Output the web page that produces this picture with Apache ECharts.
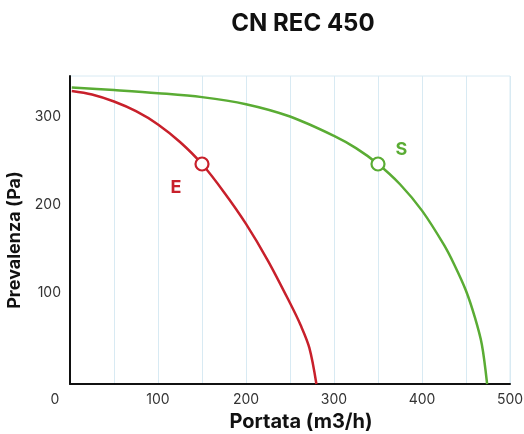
<!DOCTYPE html>
<html>
<head>
<meta charset="utf-8">
<script src="https://cdn.jsdelivr.net/npm/echarts@6/dist/echarts.min.js"></script>
<style>
html,body{margin:0;padding:0;background:#fff;}
#c{width:524px;height:434px;}
</style>
</head>
<body>
<div id="c"></div>
<script>
var titleText = 'CN REC 450';
var xName = 'Portata (m3/h)';
var yName = 'Prevalenza (Pa)';
var xTicks = [0, 100, 200, 300, 400, 500];
var yTicks = [100, 200, 300];
var seriesE = [[2,333],[25,329],[50,321],[75,310],[100,295],[125,275],[150,250],[175,218],[200,182],[225,140],[250,92],[262,67],[272,41],[280,0]];
var seriesS = [[2,337],[50,334],[100,330.5],[150,326],[200,318],[250,304],[300,282],[325,268],[350,250],[375,227],[400,197],[425,158],[437,135],[450,106],[460,76],[468,45],[474,0]];
var pointE = [150, 250];
var pointS = [350, 250];
var labelE = 'E';
var labelS = 'S';

var RED = '#c8202b';
var GREEN = '#5aac34';
var FONT = 'Inter, "IBM Plex Sans", Roboto, sans-serif';

var chart = echarts.init(document.getElementById('c'), null, {renderer: 'canvas'});
chart.setOption({
  animation: false,
  backgroundColor: '#fff',
  title: {
    text: titleText,
    left: 298, top: 7,
    textAlign: 'center',
    textStyle: {fontFamily: FONT, fontWeight: 'bold', fontSize: 24, color: '#111'}
  },
  grid: {
    left: 70, right: 14, top: 76, bottom: 50,
    outerBoundsMode: 'none', containLabel: false,
    show: true, borderColor: '#d8eaf3', borderWidth: 1
  },
  xAxis: {
    type: 'value', min: xTicks[0], max: xTicks[xTicks.length-1], interval: 100,
    name: xName, nameLocation: 'middle', nameGap: 28,
    nameTextStyle: {fontFamily: FONT, fontWeight: 'bold', fontSize: 20, color: '#111', padding: [0, 0, 0, 22]},
    axisLine: {show: true, lineStyle: {color: '#111', width: 2}},
    axisTick: {show: false},
    minorTick: {show: false, splitNumber: 2},
    splitLine: {show: true, lineStyle: {color: '#d8eaf3', width: 1}},
    minorSplitLine: {show: true, lineStyle: {color: '#d8eaf3', width: 1}},
    axisLabel: {
      margin: 9, fontFamily: FONT, fontSize: 14, color: '#333',
      formatter: function (v) { return v === 0 ? '{z|0}' : String(v); },
      rich: {z: {fontFamily: FONT, fontSize: 14, color: '#333', padding: [0, 30, 0, 0]}}
    }
  },
  yAxis: {
    type: 'value', min: 0, max: 350, interval: 100,
    name: yName, nameLocation: 'middle', nameGap: 31,
    nameTextStyle: {fontFamily: FONT, fontWeight: 'bold', fontSize: 18, color: '#111', padding: [0, 20, 0, 0]},
    axisLine: {show: true, lineStyle: {color: '#111', width: 2}},
    axisTick: {show: false},
    splitLine: {show: false},
    axisLabel: {
      margin: 9, fontFamily: FONT, fontSize: 14, color: '#333',
      formatter: function (v) { return yTicks.indexOf(v) >= 0 ? '{a|' + v + '}' : ''; },
      rich: {a: {fontFamily: FONT, fontSize: 14, color: '#333', padding: [0, 0, 6, 0]}}
    }
  },
  series: [
    {
      type: 'line', data: seriesE, smooth: 0.33, showSymbol: false, symbol: 'none',
      lineStyle: {color: RED, width: 2.5}, z: 3
    },
    {
      type: 'line', data: seriesS, smooth: 0.33, showSymbol: false, symbol: 'none',
      lineStyle: {color: GREEN, width: 2.5}, z: 3
    },
    {
      type: 'scatter', data: [pointE], symbol: 'circle', symbolSize: 13,
      itemStyle: {color: '#fff', borderColor: RED, borderWidth: 2.2, opacity: 1}, z: 5,
      label: {show: true, formatter: labelE, position: [-24, 22], fontFamily: FONT,
        fontWeight: 'bold', fontSize: 18, color: RED}
    },
    {
      type: 'scatter', data: [pointS], symbol: 'circle', symbolSize: 13,
      itemStyle: {color: '#fff', borderColor: GREEN, borderWidth: 2.2, opacity: 1}, z: 5,
      label: {show: true, formatter: labelS, position: [25, -16], fontFamily: FONT,
        fontWeight: 'bold', fontSize: 18, color: GREEN}
    }
  ]
});
</script>
</body>
</html>
